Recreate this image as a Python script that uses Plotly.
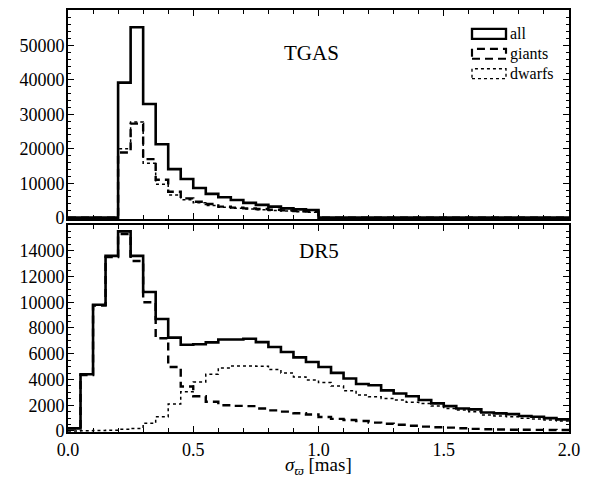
import plotly.graph_objects as go

# histogram bins: 0.05 mas wide, 0 to 2 mas
BIN_WIDTH = 0.05
edges = [round(i * BIN_WIDTH, 2) for i in range(41)]

# TGAS counts per bin
tgas_all = [0, 0, 0, 0, 39200, 55300, 33000, 21300, 14100, 11200,
            8600, 6900, 5900, 5100, 4300, 3700, 3200, 2700, 2400, 2200,
            0, 0, 0, 0, 0, 0, 0, 0, 0, 0,
            0, 0, 0, 0, 0, 0, 0, 0, 0, 0]
tgas_giants = [0, 0, 0, 0, 18900, 27300, 17000, 11000, 7500, 5600,
               4600, 3950, 3200, 2900, 2700, 2500, 2300, 2100, 1900, 1750,
               0, 0, 0, 0, 0, 0, 0, 0, 0, 0,
               0, 0, 0, 0, 0, 0, 0, 0, 0, 0]
tgas_dwarfs = [0, 0, 0, 0, 20000, 27800, 15800, 9700, 6550, 5200,
               4300, 3500, 3000, 2700, 2500, 2300, 2100, 1900, 1700, 1550,
               0, 0, 0, 0, 0, 0, 0, 0, 0, 0,
               0, 0, 0, 0, 0, 0, 0, 0, 0, 0]

# DR5 counts per bin
dr5_all = [200, 4400, 9800, 13600, 15500, 13600, 10800, 8700, 7250, 6700,
           6730, 6880, 7110, 7100, 7160, 6900, 6520, 6130, 5720, 5360,
           4970, 4510, 4070, 3650, 3550, 3150, 2910, 2700, 2400, 2140,
           1930, 1750, 1680, 1440, 1370, 1310, 1160, 1110, 1000, 900]
dr5_giants = [200, 4350, 9750, 13500, 15300, 13200, 10000, 7200, 4970, 3450,
              2700, 2270, 2000, 1950, 1930, 1750, 1600, 1500, 1380, 1280,
              1080, 940, 850, 770, 650, 560, 480, 410, 340, 290,
              260, 210, 160, 130, 110, 100, 90, 85, 80, 75]
dr5_dwarfs = [0, 20, 40, 60, 130, 200, 600, 1100, 2100, 3040,
              3800, 4400, 4900, 5050, 5050, 5030, 4770, 4510, 4200, 3950,
              3760, 3500, 3120, 2800, 2650, 2530, 2400, 2240, 2140, 1930,
              1750, 1620, 1500, 1240, 1160, 1110, 980, 930, 850, 770]

FONT = "Liberation Serif, Times New Roman, Times, serif"
W, H = 593, 478
L, R, T, B = 68, 24, 8, 46
PW, PH = W - L - R, H - T - B


def px_x(p):
    return (p - L) / PW


def px_y(p):
    return (H - B - p) / PH


styles = {
    "all": dict(color="black", width=2.6),
    "giants": dict(color="black", width=2.4, dash="8px,5px"),
    "dwarfs": dict(color="black", width=1.5, dash="dot"),
}

fig = go.Figure()
panels = [("x", "y", tgas_all, tgas_giants, tgas_dwarfs),
          ("x2", "y2", dr5_all, dr5_giants, dr5_dwarfs)]
for xa, ya, a, g, d in panels:
    for name, vals in [("dwarfs", d), ("giants", g), ("all", a)]:
        fig.add_trace(go.Scatter(
            x=edges, y=vals + [vals[-1]], mode="lines",
            line=dict(shape="hv", **styles[name]),
            xaxis=xa, yaxis=ya, showlegend=False, hoverinfo="skip"))

axis_common = dict(
    showline=True, linecolor="black", linewidth=2, mirror="ticks",
    ticks="inside", ticklen=6, tickwidth=1.3, tickcolor="black",
    showgrid=False, zeroline=False,
    tickfont=dict(family=FONT, size=18, color="black"),
)

fig.update_layout(
    width=W, height=H,
    margin=dict(l=L, r=R, t=T, b=B),
    paper_bgcolor="white", plot_bgcolor="white",
    font=dict(family=FONT, color="black"),
    xaxis=dict(axis_common, domain=[0, 1], anchor="y", range=[0, 2],
               matches="x2", showticklabels=False, dtick=0.5,
               minor=dict(dtick=0.1, ticks="inside", ticklen=4,
                          tickcolor="black", tickwidth=1.2)),
    yaxis=dict(axis_common, domain=[px_y(218), 1], anchor="x",
               range=[-400, 60300], tickformat="d", ticklabelstandoff=-2,
               tickvals=[0, 10000, 20000, 30000, 40000, 50000],
               minor=dict(tickvals=list(range(2000, 60000, 2000)),
                          ticks="inside", ticklen=3,
                          tickcolor="black", tickwidth=1.1)),
    xaxis2=dict(axis_common, domain=[0, 1], anchor="y2", range=[0, 2],
                tickvals=[0, 0.5, 1.0, 1.5, 2.0],
                ticktext=["0.0", "0.5", "1.0", "1.5", "2.0"],
                minor=dict(dtick=0.1, ticks="inside", ticklen=4,
                           tickcolor="black", tickwidth=1.2)),
    yaxis2=dict(axis_common, domain=[0, px_y(224)], anchor="x2",
                range=[-80, 16000], tickformat="d", ticklabelstandoff=-2,
                tickvals=list(range(0, 16000, 2000)),
                minor=dict(tickvals=list(range(500, 16000, 500)),
                           ticks="inside", ticklen=3,
                           tickcolor="black", tickwidth=1.1)),
)

# x axis title
fig.add_annotation(x=0.5, y=px_y(466), xref="paper", yref="paper",
                   text="<i>σ</i><sub><i>ϖ</i></sub> [mas]", showarrow=False,
                   yanchor="middle", font=dict(family=FONT, size=19))

# panel labels
fig.add_annotation(x=px_x(341), y=px_y(37), xref="paper", yref="paper",
                   text="TGAS", showarrow=False, xanchor="right",
                   font=dict(family=FONT, size=21))
fig.add_annotation(x=px_x(341), y=px_y(250), xref="paper", yref="paper",
                   text="DR5", showarrow=False, xanchor="right",
                   font=dict(family=FONT, size=21))

# legend drawn by hand: outlined boxes like a step histogram legend
legend_rows = [("all", 27, 37), ("giants", 47, 57), ("dwarfs", 67, 77)]
for name, y0, y1 in legend_rows:
    st = styles[name]
    fig.add_shape(type="rect", xref="paper", yref="paper",
                  x0=px_x(472), x1=px_x(506), y0=px_y(y1), y1=px_y(y0),
                  line=dict(color="black", width=st["width"] * 0.9,
                            dash=st.get("dash", "solid")))
    fig.add_annotation(x=px_x(508), y=px_y((y0 + y1) / 2), xref="paper",
                       yref="paper", text=name, showarrow=False,
                       xanchor="left", yanchor="middle",
                       font=dict(family=FONT, size=16))

fig.write_html("out.html", config={"displayModeBar": False},
               post_script="document.body.style.margin='0';")
